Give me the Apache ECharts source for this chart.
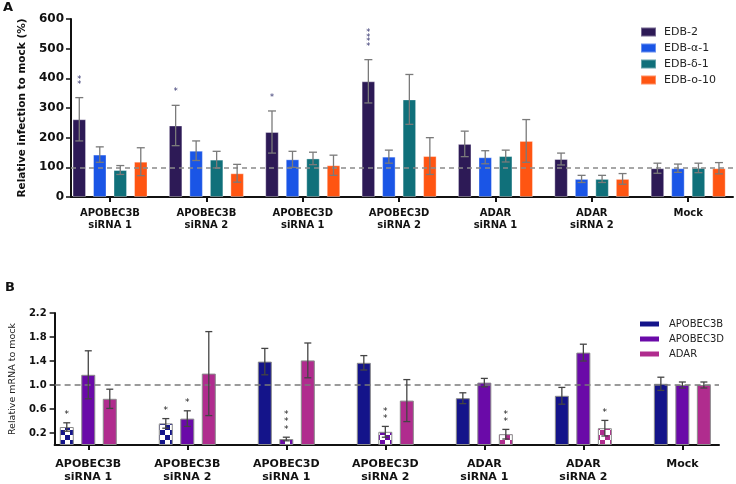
<!DOCTYPE html>
<html><head><meta charset="utf-8">
<script src="https://cdn.jsdelivr.net/npm/echarts@6/dist/echarts.min.js"></script>
<style>html,body{margin:0;padding:0;background:#fff}#c{width:736px;height:484px}</style>
</head><body><div id="c"></div>
<script>
// ---------- data ----------
const categories = ['APOBEC3B\nsiRNA 1','APOBEC3B\nsiRNA 2','APOBEC3D\nsiRNA 1','APOBEC3D\nsiRNA 2','ADAR\nsiRNA 1','ADAR\nsiRNA 2','Mock'];
const categoryIndex = [0,1,2,3,4,5,6];

// Panel A: relative infection to mock (%)
const seriesNamesA = ['EDB-2','EDB-α-1','EDB-δ-1','EDB-o-10'];
const edb2      = [262, 241, 219, 390, 179, 128, 97];
const edb2Err   = [73, 68, 71, 73, 43, 20, 17];
const edbA1     = [143, 156, 127, 136, 134, 61, 97];
const edbA1Err  = [26, 33, 27, 22, 22, 12, 14];
const edbD1     = [91, 126, 130, 329, 138, 61, 98];
const edbD1Err  = [15, 28, 21, 84, 20, 12, 16];
const edbO10    = [119, 80, 107, 138, 189, 61, 97];
const edbO10Err = [47, 30, 34, 62, 72, 18, 19];
const edb2Stars = ['**','*','*','****','','',''];
const yTicksA = [0, 100, 200, 300, 400, 500, 600];

// Panel B: relative mRNA to mock
const seriesNamesB = ['APOBEC3B','APOBEC3D','ADAR'];
const apobec3b      = [0.30, 0.36, 1.39, 1.37, 0.78, 0.82, 1.02];
const apobec3bErr   = [0.07, 0.08, 0.22, 0.12, 0.09, 0.14, 0.11];
const apobec3d      = [1.17, 0.44, 0.10, 0.22, 1.04, 1.54, 1.00];
const apobec3dErr   = [0.40, 0.13, 0.03, 0.09, 0.07, 0.14, 0.05];
const adar          = [0.77, 1.19, 1.41, 0.74, 0.18, 0.28, 1.00];
const adarErr       = [0.16, 0.70, 0.29, 0.35, 0.08, 0.13, 0.05];
const apobec3bStars = ['*','*','','','','',''];
const apobec3dStars = ['','*','***','**','','',''];
const adarStars     = ['','','','','**','*',''];
const apobec3bKnock = [1,1,0,0,0,0,0];
const apobec3dKnock = [0,0,1,1,0,0,0];
const adarKnock     = [0,0,0,0,1,1,0];
const yTicksB = [0.2, 0.6, 1.0, 1.4, 1.8, 2.2];

// ---------- styles ----------
const colorsA = ['#2d1a56','#1a55e6','#10707a','#ff5512'];
const colorsB = ['#14148a','#6a0aa8','#b02c8e'];
const FONT = 'DejaVu Sans';
const W_A = 13.5, G_A = 7, W_B = 14, G_B = 7.5;

function slotOffset(i, n, w, g) { const t = n*w + (n-1)*g; return -t/2 + i*(w+g) + w/2; }

function checker(color) {
  const c = document.createElement('canvas'); c.width = c.height = 10;
  const ctx = c.getContext('2d');
  ctx.fillStyle = '#fff'; ctx.fillRect(0,0,10,10);
  ctx.fillStyle = color; ctx.fillRect(0,0,5,5); ctx.fillRect(5,5,5,5);
  return c;
}

function barSeries(grid, name, values, color, w, g, border, knock, extra) {
  const s = {
    type: 'bar', name, xAxisIndex: grid, yAxisIndex: grid,
    barWidth: w, barGap: (g / w * 100) + '%',
    data: values.map((v, k) => {
      if (knock && knock[k]) return { value: [categoryIndex[k], v], itemStyle: { color: { image: checker(color), repeat: 'repeat' } } };
      return [categoryIndex[k], v];
    }),
    itemStyle: { color, borderColor: border.color, borderWidth: border.width },
    emphasis: { disabled: true }, silent: true
  };
  return Object.assign(s, extra || {});
}

function errSeries(grid, values, errs, i, n, w, g, color, cap) {
  return {
    type: 'custom', xAxisIndex: grid, yAxisIndex: grid, z: 5, silent: true,
    data: values.map((v, k) => [categoryIndex[k], v, errs[k]]),
    encode: { x: 0, y: 1 },
    renderItem(params, api) {
      const x = api.value(0), v = api.value(1), e = api.value(2);
      const top = api.coord([x, v + e]), bot = api.coord([x, v - e]);
      const cx = top[0] + slotOffset(i, n, w, g);
      const style = { stroke: color, lineWidth: 1.3, fill: null };
      return { type: 'group', children: [
        { type: 'line', shape: { x1: cx, y1: top[1], x2: cx, y2: bot[1] }, style },
        { type: 'line', shape: { x1: cx - cap, y1: top[1], x2: cx + cap, y2: top[1] }, style },
        { type: 'line', shape: { x1: cx - cap, y1: bot[1], x2: cx + cap, y2: bot[1] }, style }
      ]};
    }
  };
}

function starSeries(grid, values, errs, stars, i, n, w, g, color, size, gap, spacing) {
  return {
    type: 'custom', xAxisIndex: grid, yAxisIndex: grid, z: 6, silent: true,
    data: values.map((v, k) => [categoryIndex[k], v + errs[k]]),
    encode: { x: 0, y: 1 },
    renderItem(params, api) {
      const s = stars[params.dataIndex];
      if (!s) return null;
      const p = api.coord([api.value(0), api.value(1)]);
      const cx = p[0] + slotOffset(i, n, w, g);
      const children = [];
      for (let j = 0; j < s.length; j++) {
        children.push({ type: 'text', x: cx, y: p[1] - gap - j * spacing + size * 0.25,
          style: { text: '*', fill: color, font: size + 'px ' + FONT, align: 'center', verticalAlign: 'middle' } });
      }
      return { type: 'group', children };
    }
  };
}

const dashA = { silent: true, symbol: ['none','none'], label: { show: false },
  lineStyle: { type: [5,4], color: '#8a8a8a', width: 1.5 }, data: [{ yAxis: 100 }] };
const dashB = { silent: true, symbol: ['none','none'], label: { show: false },
  lineStyle: { type: [6,4], color: '#7a7a7a', width: 1.5 }, data: [{ yAxis: 1.0 }] };

const borderA = { color: 'rgba(255,255,255,0.35)', width: 1 };
const borderB = { color: '#8a8a8a', width: 1 };

const valsA = [edb2, edbA1, edbD1, edbO10];
const errsA = [edb2Err, edbA1Err, edbD1Err, edbO10Err];
const valsB = [apobec3b, apobec3d, adar];
const errsB = [apobec3bErr, apobec3dErr, adarErr];
const starsB = [apobec3bStars, apobec3dStars, adarStars];
const knockB = [apobec3bKnock, apobec3dKnock, adarKnock];

const series = [];
valsA.forEach((v, i) => series.push(barSeries(0, seriesNamesA[i], v, colorsA[i], W_A, G_A, borderA, null, i === 0 ? { markLine: dashA } : null)));
valsA.forEach((v, i) => series.push(errSeries(0, v, errsA[i], i, 4, W_A, G_A, '#7a7a7a', 4)));
series.push(starSeries(0, edb2, edb2Err, edb2Stars, 0, 4, W_A, G_A, '#33336e', 8, 15, 4.5));
valsB.forEach((v, i) => series.push(barSeries(1, seriesNamesB[i], v, colorsB[i], W_B, G_B, borderB, knockB[i], i === 0 ? { markLine: dashB } : null)));
valsB.forEach((v, i) => series.push(errSeries(1, v, errsB[i], i, 3, W_B, G_B, '#444', 3.5)));
valsB.forEach((v, i) => series.push(starSeries(1, v, errsB[i], starsB[i], i, 3, W_B, G_B, '#222', 9, 10, 7.3)));

const axisColor = '#111';
const catAxis = (grid, min, max, fontSize, lineHeight, margin) => ({
  gridIndex: grid, type: 'value', min, max, splitLine: { show: false },
  axisLine: { show: true, lineStyle: { color: axisColor, width: 2 } },
  axisTick: { show: true, customValues: categoryIndex, length: 5, lineStyle: { color: axisColor, width: 2 } },
  axisLabel: { customValues: categoryIndex, formatter: v => categories[Math.round(v)],
    fontFamily: FONT, fontWeight: 'bold', fontSize, lineHeight, color: axisColor, margin }
});

const option = {
  animation: false,
  backgroundColor: '#fff',
  title: [
    { text: 'A', left: 3, top: 1, padding: 0, textStyle: { fontFamily: FONT, fontWeight: 'bold', fontSize: 13, color: axisColor } },
    { text: 'B', left: 5, top: 281, padding: 0, textStyle: { fontFamily: FONT, fontWeight: 'bold', fontSize: 13, color: axisColor } }
  ],
  legend: [
    { data: seriesNamesA, left: 640, top: 26.5, padding: 0, orient: 'vertical', icon: 'rect',
      itemWidth: 15, itemHeight: 9, itemGap: 5, selectedMode: false,
      textStyle: { fontFamily: FONT, fontSize: 11, color: '#222', padding: [0,0,0,3] } },
    { data: seriesNamesB, left: 640, top: 319, padding: 0, orient: 'vertical', icon: 'rect',
      itemWidth: 19, itemHeight: 5, itemGap: 5, selectedMode: false,
      itemStyle: { borderWidth: 0 },
      textStyle: { fontFamily: FONT, fontSize: 10, color: '#222', padding: [0,0,0,5] } }
  ],
  grid: [
    { left: 71, top: 19, width: 662, height: 178 },
    { left: 47, top: 313, width: 672, height: 135 }
  ],
  xAxis: [
    catAxis(0, -0.405, 6.465, 10, 12.5, 10),
    catAxis(1, -0.34, 6.37, 11, 13.5, 12)
  ],
  yAxis: [
    { gridIndex: 0, type: 'value', min: yTicksA[0], max: yTicksA[yTicksA.length-1], interval: 100,
      splitLine: { show: false },
      axisLine: { show: true, onZero: false, lineStyle: { color: axisColor, width: 2 } },
      axisTick: { show: true, length: 5, lineStyle: { color: axisColor, width: 1.5 } },
      axisLabel: { fontFamily: FONT, fontWeight: 'bold', fontSize: 12, color: axisColor, margin: 7 },
      name: 'Relative infection to mock (%)', nameLocation: 'middle', nameGap: 43,
      nameTextStyle: { fontFamily: FONT, fontWeight: 'bold', fontSize: 10.5, color: axisColor } },
    { gridIndex: 1, type: 'value', min: 0, max: 2.2,
      splitLine: { show: false },
      axisLine: { show: true, onZero: false, lineStyle: { color: axisColor, width: 2 } },
      axisTick: { show: true, customValues: yTicksB, length: 5, lineStyle: { color: axisColor, width: 1.5 } },
      axisLabel: { customValues: yTicksB, formatter: v => v.toFixed(1), fontFamily: FONT, fontWeight: 'bold', fontSize: 10, color: axisColor, margin: 8 },
      name: 'Relative mRNA to mock', nameLocation: 'middle', nameGap: 32,
      nameTextStyle: { fontFamily: FONT, fontSize: 9.5, color: '#222' } }
  ],
  series
};
const chart = echarts.init(document.getElementById('c'), null, { renderer: 'canvas' });
chart.setOption(option);
</script></body></html>
